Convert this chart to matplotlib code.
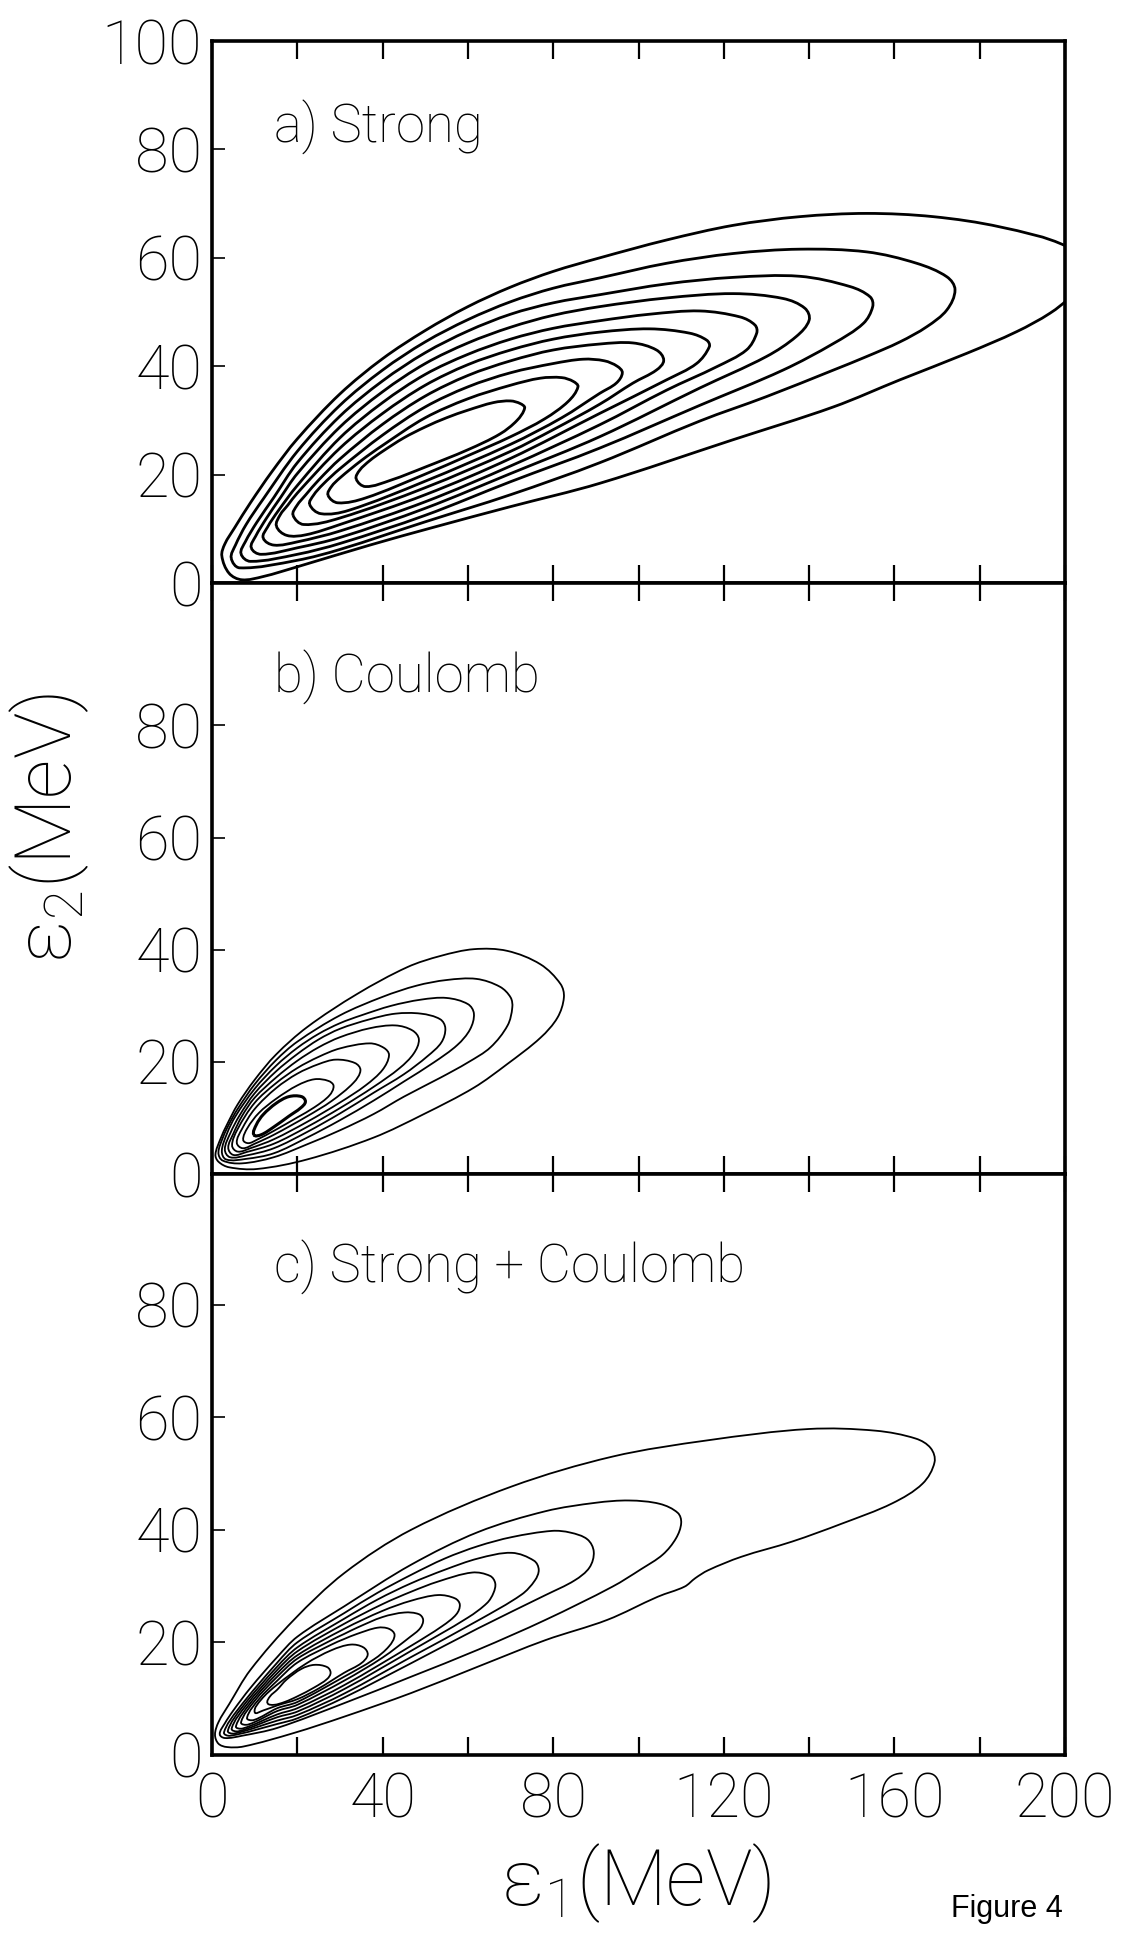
import numpy as np
import matplotlib.pyplot as plt
from matplotlib.path import Path
from matplotlib.patches import PathPatch

plt.rcParams['font.family'] = ['Roboto', 'DejaVu Sans']
plt.rcParams['font.weight'] = 'light'
plt.rcParams['mathtext.fontset'] = 'custom'
plt.rcParams['mathtext.rm'] = 'Roboto:light'

# contour loops, (eps1, eps2) in MeV
# each loop: apex -> lower branch -> tip -> upper branch
strong = [
    [(33.8,19.2),(36.0,17.8),(42,19.0),(50,21.4),(60,24.6),(67.5,27.5),(71.5,30.0),(73.3,32.3),(72.3,33.1),(70,33.6),(66,33.3),(60,31.9),(55,30.5),(50,28.8),(45,26.8),(40,24.3),(37,22.6),(34.6,20.8)],
    [(27.2,16.2),(29.5,14.8),(36,15.7),(50,20.1),(60,23.5),(70,27.0),(78,30.3),(83.5,33.5),(85.8,36.2),(84.7,37.2),(82,37.9),(77,37.8),(70,36.5),(60,34.0),(50,30.5),(40,25.4),(35,22.6),(30,19.4),(28,17.8)],
    [(22.9,14.5),(25.5,12.8),(32,13.4),(50,18.8),(70,25.6),(82,30.5),(90.9,35.0),(94.8,36.9),(96.2,38.8),(95,40.0),(92,41.0),(87,41.3),(80,40.5),(70,38.8),(60,36.2),(50,32.5),(40,27.3),(30,21.1),(26,18.2),(23.8,16.2)],
    [(19.0,12.5),(21.5,10.8),(30,12.0),(50,17.6),(70,24.3),(80,28.3),(90.9,33.0),(98.7,36.9),(104.2,39.3),(105.9,41.1),(104.2,43.0),(98.7,44.3),(90.9,44.1),(80,43.0),(70,41.0),(60,38.3),(50,34.5),(40,29.3),(30,22.9),(25,19.0),(22,16.3),(19.9,14.3)],
    [(15.1,10.5),(17.5,8.8),(22,8.9),(30,10.8),(50,16.3),(70,23.0),(90.9,31.3),(106.6,37.5),(113.6,40.5),(116.6,43.6),(116,44.8),(112,46.1),(102.6,46.9),(90.9,46.3),(80,45.0),(70,43.0),(60,40.3),(50,36.5),(40,31.3),(30,24.9),(20,16.6),(17.8,14.4),(16.0,12.6)],
    [(12.0,8.3),(14.5,7.0),(20,7.6),(30,9.6),(50,15.0),(70,21.6),(90.9,29.2),(106.6,35.6),(118.3,39.9),(125.3,43.0),(127.7,46.1),(127.3,47.6),(123.8,49.1),(114.4,50.2),(102.6,49.6),(90.9,48.4),(80,47.0),(70,45.0),(60,42.2),(50,38.5),(40,33.3),(30,26.8),(20,18.0),(15.5,13.3),(13.0,10.3)],
    [(9.2,6.5),(11.5,5.3),(20,6.5),(30,8.4),(50,13.8),(70,20.2),(90.9,27.0),(114.4,36.0),(130,41.8),(137,45.5),(140.0,48.5),(139,50.7),(133.9,52.5),(122.2,53.4),(106.6,52.6),(90.9,51.0),(80,49.4),(70,47.2),(60,44.3),(50,40.5),(40,35.3),(30,28.8),(20,20.2),(16,15.7),(12.8,12.0),(10.2,8.6)],
    [(6.8,5.4),(9,4.0),(20,5.3),(30,7.3),(50,12.5),(70,18.7),(90.9,24.9),(114.4,32.8),(133.9,39.3),(145.7,44.2),(152.7,47.9),(154.9,51.0),(154.3,52.8),(149.6,54.7),(137.8,56.6),(122.2,56.4),(106.6,55.2),(90.9,53.2),(80,51.7),(70,49.6),(60,46.5),(50,42.5),(40,37.3),(30,30.8),(20,22.2),(14.5,15.8),(10.5,11.2),(7.8,7.6)],
    [(4.5,4.6),(6.5,2.8),(20,4.2),(30,6.2),(50,11.3),(70,16.3),(90.9,22.2),(114.4,29.9),(130,34.4),(145.7,39.3),(153.5,41.8),(161.3,44.5),(167.6,47.3),(172.3,50.4),(174.2,54.1),(172.3,56.5),(165.2,59.0),(153.5,61.1),(137.8,61.6),(122.2,60.8),(106.6,59.0),(90.9,56.3),(80,54.4),(70,51.9),(60,48.6),(50,44.5),(40,39.3),(30,32.8),(20,24.3),(12,15.5),(8,10.8),(5.5,7.0)],
    [(2.3,5.0),(4.0,1.8),(7,0.6),(12,1.2),(20,3.0),(37,7.0),(52,10.3),(70,14.1),(90.9,18.4),(122,26.4),(145.7,32.5),(161.3,37.5),(177,42.4),(188.7,46.4),(196.5,49.8),(201.2,52.8),(206,57.5),(200.4,62.1),(184.8,65.7),(169.1,67.6),(153.5,68.2),(137.8,67.6),(122.2,66.0),(106.6,63.3),(90.9,60.0),(80,57.5),(70,54.6),(60,51.0),(50,46.6),(40,41.4),(30,34.9),(20,26.6),(14,20.5),(9,14.8),(5.3,10.2),(3.0,7.2)],
]

coulomb = [
    [(9.8,7.0),(11.5,7.0),(14.5,8.4),(18,10.3),(20.8,11.8),(21.9,12.9),(21.0,13.8),(18,13.8),(15,12.6),(12,10.6),(10.4,8.8)],
    [(7.3,6.1),(8.5,5.5),(10.5,6.1),(14.5,7.7),(20,10.1),(24,11.9),(27.5,14.0),(28.5,15.7),(27.3,16.6),(24,16.9),(20,15.8),(15,13.4),(11,10.9),(8.3,8.2)],
    [(5.8,5.6),(7.2,4.6),(10,5.4),(14.5,7.0),(22.3,10.3),(28,13.0),(33.2,16.3),(34.8,18.5),(33.5,19.8),(29,20.4),(25,19.6),(20,17.9),(15,15.3),(10,11.6),(7,8.0)],
    [(4.7,5.1),(6.0,4.0),(9,4.6),(14.5,6.2),(22.3,9.3),(30.1,12.8),(36,15.8),(40,18.6),(41.5,21.2),(40.3,22.5),(37,23.3),(30,22.4),(25,20.9),(20,18.9),(15,16.2),(10,12.7),(6,8.0)],
    [(3.8,4.7),(5.0,3.4),(8,3.9),(14.5,5.4),(22.3,8.4),(30.1,11.8),(38,15.6),(44,18.9),(47.3,21.5),(48.5,24.0),(47,25.6),(43,26.5),(37,26.0),(30,24.4),(25,22.6),(20,20.2),(15,17.2),(10,13.6),(7,10.3),(5,7.2)],
    [(3.0,4.4),(4.2,3.0),(8,3.3),(14.5,4.6),(22.3,7.5),(30,10.8),(37.9,14.5),(45,17.8),(50.5,21.0),(53.8,23.5),(54.7,26.0),(53.5,27.6),(49,28.6),(43,28.6),(37,27.6),(30,25.9),(25,24.0),(20,21.4),(15,18.3),(10,14.4),(6.5,10.5),(4.3,7.3)],
    [(2.3,4.1),(3.3,2.6),(8,2.7),(14.5,3.7),(22.3,6.5),(30,9.6),(37.9,13.1),(45,16.5),(52,19.9),(57.5,23.0),(60.5,25.8),(61.4,28.6),(60,30.3),(55,31.4),(49,31.1),(42,30.0),(35,28.3),(30,26.9),(25,25.0),(20,22.5),(15,19.3),(10,15.2),(5.5,10.3),(3.5,7.2)],
    [(1.5,3.8),(2.5,2.4),(7,1.9),(14.5,3.0),(22.3,5.3),(30,7.8),(37.9,10.7),(45,13.8),(53.6,17.2),(60,19.9),(65.3,22.6),(69.3,26.5),(70.4,29.7),(70.0,31.5),(67.5,33.4),(62,34.8),(55,34.6),(48,33.6),(40,31.6),(30,28.3),(20,23.6),(15,20.3),(10,16.0),(6,11.6),(4.0,8.9),(2.6,6.6)],
    [(0.8,3.5),(1.5,2.2),(4,1.2),(10.6,0.9),(22.3,2.6),(37.9,6.5),(49.7,10.7),(61.4,15.4),(69.2,19.6),(77,24.3),(81,27.9),(82.5,31.5),(81.7,33.9),(77,37.4),(69.2,39.8),(61.4,40.1),(53.6,38.9),(45.8,36.9),(34,32.1),(22.3,26.2),(15,21.3),(10,16.8),(6,12.4),(3.5,8.8),(2.0,6.3)],
]

both = [
    [(13.0,9.2),(14.5,8.9),(17,9.4),(20,10.4),(24,12.0),(27,13.5),(27.8,14.6),(27,15.6),(24,16.0),(21,15.3),(17.5,13.4),(15.3,11.6),(13.6,10.4)],
    [(10.0,7.6),(12.0,7.9),(15.3,8.8),(20,9.9),(25,11.8),(31,14.6),(35,16.3),(36.5,17.8),(35.5,19.1),(32.5,19.6),(28,18.6),(22,16.2),(15.3,12.5),(11.5,9.8)],
    [(8.2,6.6),(9.8,6.2),(15.3,8.3),(20,9.4),(31,13.9),(38,17.0),(41.5,19.3),(42.8,21.3),(41.5,22.4),(38.8,22.6),(34,21.5),(31,20.6),(28,19.6),(20,16.4),(15.3,13.2),(11,9.9)],
    [(6.8,5.8),(8.5,5.4),(15.3,7.8),(20,8.9),(31,13.2),(40,17.3),(46.5,21.0),(48.8,22.5),(49.5,24.0),(48.5,25.0),(45.1,25.3),(40,24.5),(34,22.6),(31,21.5),(28,20.4),(20,17.1),(15.3,13.9),(10,9.6)],
    [(5.6,5.1),(7.2,4.7),(15.3,7.2),(20,8.3),(31,12.4),(46.7,19.4),(54,22.9),(57.3,25.0),(58.1,26.7),(57,27.8),(53,28.4),(46.7,27.4),(40,25.6),(31,22.4),(20,17.7),(15.3,14.5),(9,9.2)],
    [(4.6,4.7),(6.2,4.2),(15.3,6.7),(20,7.7),(31,11.7),(46.7,18.5),(60,24.4),(64.5,27.0),(66,28.8),(66.4,30.5),(65.2,31.8),(61,32.4),(53,30.8),(46.7,29.0),(40,26.8),(31,23.3),(20,18.4),(15.3,15.1),(8,8.8)],
    [(3.7,4.3),(5.2,3.8),(15.3,6.1),(20,7.1),(31,10.9),(46.7,17.4),(62.4,23.9),(72.6,28.5),(75.7,31.0),(76.6,32.9),(75.5,34.5),(70.3,35.9),(62.4,34.9),(54.6,32.9),(46.7,30.5),(38.8,27.6),(31,24.2),(20,19.1),(15.3,15.7),(7,8.4)],
    [(2.8,4.0),(4.2,3.4),(15.3,5.5),(20,6.5),(31,10.2),(46.7,16.3),(62.4,22.5),(78.2,28.4),(85,31.0),(88.5,33.3),(89.5,36.1),(88,38.3),(84,39.5),(79.7,39.8),(70.3,38.7),(62.4,37.1),(54.6,34.9),(46.7,32.0),(38.8,28.8),(31,25.2),(20,20.0),(15.3,16.4),(6,8.0)],
    [(1.8,3.7),(3.0,3.0),(7,3.4),(15.3,4.8),(31.0,9.2),(46.7,13.9),(62.4,18.7),(78.2,24.0),(93.9,29.9),(100.6,33.0),(105.7,35.6),(108.8,38.5),(110,41.2),(109.2,43.0),(105,44.6),(97.8,45.2),(90,44.8),(78.2,43.3),(62.4,39.6),(46.7,33.8),(31,26.4),(20,21.0),(15.3,17.4),(9,11.9),(5,7.9),(3,5.6)],
    [(0.7,3.6),(1.5,2.0),(3.5,1.4),(7.4,1.5),(19.2,3.9),(31.0,6.8),(46.7,11.0),(62.4,15.7),(78.2,20.4),(92.7,24.0),(104.5,28.1),(110.8,29.9),(113.3,31.4),(116.3,32.8),(124.1,35.2),(136,37.9),(147.7,41.1),(159.5,44.7),(166.6,48.2),(169.4,52.0),(168.5,54.5),(165,56.2),(155.6,57.6),(139.9,57.9),(116.3,55.9),(93.9,53.0),(70.3,47.7),(46.7,40.0),(31,32.3),(19.2,24.0),(9,15.1),(4,9.0),(1.5,5.8)],
]

titles = ['a) Strong', 'b) Coulomb', 'c) Strong + Coulomb']
ytop = [100, 105.4, 103.2]
yticks = [[0, 20, 40, 60, 80, 100], [0, 20, 40, 60, 80], [0, 20, 40, 60, 80]]
xticks = list(range(0, 201, 20))
xlabels = ['0', '', '40', '', '80', '', '120', '', '160', '', '200']


def loop_path(pts, k=1.3):
    # closed smooth curve through the read points (bezier handles along neighbours)
    p = np.array(pts, float)
    p[:, 1] *= k
    n = len(p)
    verts = [p[0]]
    codes = [Path.MOVETO]
    for i in range(n):
        a, b = p[i], p[(i + 1) % n]
        ta = p[(i + 1) % n] - p[i - 1]
        tb = p[(i + 2) % n] - p[i]
        d = np.hypot(*(b - a))
        verts += [a + ta / np.hypot(*ta) * d / 3, b - tb / np.hypot(*tb) * d / 3, b]
        codes += [Path.CURVE4] * 3
    verts = np.array(verts)
    verts[:, 1] /= k
    return Path(verts, codes)


fig = plt.figure(figsize=(11.23, 19.37), dpi=100)
boxes = [[0.1888, 0.6990, 0.7596, 0.2798],
         [0.1888, 0.3939, 0.7596, 0.3051],
         [0.1888, 0.0940, 0.7596, 0.2999]]

for i, loops in enumerate([strong, coulomb, both]):
    ax = fig.add_axes(boxes[i])
    lw = 2.0 if i == 0 else 1.3
    for j, pts in enumerate(loops):
        w = 2.2 if (i == 1 and j == 0) else lw
        ax.add_patch(PathPatch(loop_path(pts), fill=False, lw=w, ec='black'))
    ax.set_xlim(0, 200)
    ax.set_ylim(0, ytop[i])
    ax.set_xticks(xticks)
    ax.set_xticklabels(xlabels)
    ax.set_yticks(yticks[i])
    for s in ax.spines.values():
        s.set_linewidth(2.6)
    ax.tick_params(axis='x', direction='in', length=13, width=1.6, top=True, bottom=True,
                   labelbottom=(i == 2), labelsize=44, pad=12)
    ax.tick_params(axis='y', direction='in', length=9, width=1.2, right=False,
                   labelsize=44, pad=7)
    ax.text(14.5, ytop[i] * 0.84, titles[i], fontsize=38, va='center', ha='left')

fig.text(0.044, 0.5725, 'ε$_2$(MeV)', rotation=90, fontsize=56, ha='center', va='center')
fig.text(0.566, 0.028, 'ε$_1$(MeV)', fontsize=56, ha='center', va='center')
fig.text(0.847, 0.0145, 'Figure 4', fontsize=22, ha='left', va='center',
         family=['Liberation Sans', 'DejaVu Sans'], weight='normal')

fig.savefig('out.png', dpi=100, facecolor='white')
